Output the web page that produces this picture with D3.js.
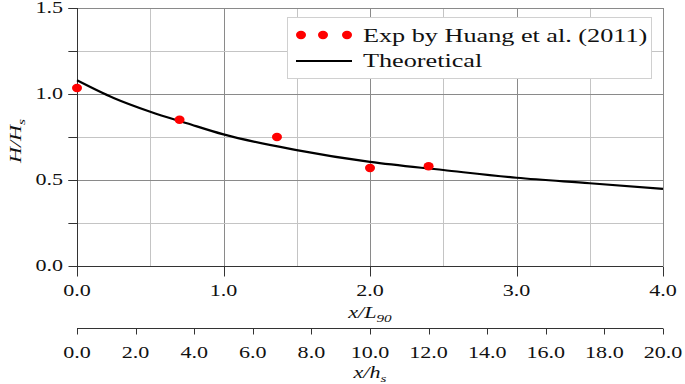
<!DOCTYPE html>
<html lang="en">
<head>
<meta charset="UTF-8">
<title>H/Hs vs x/L90</title>
<script src="https://cdn.jsdelivr.net/npm/d3@7"></script>
<style>
  body { margin: 0; background: #fff; }
</style>
</head>
<body>
<svg id="chart" width="685" height="384" font-family="'Liberation Serif', 'Times New Roman', serif"></svg>
<script>
// experimental points (Huang et al. 2011)
var expX = [0.0, 0.70, 1.365, 2.0, 2.40];
var expY = [1.035, 0.85, 0.75, 0.57, 0.58];

// theoretical curve
var theoX = [0.0, 0.25, 0.5, 0.75, 1.0, 1.5, 2.0, 2.5, 3.0, 3.5, 4.0];
var theoY = [1.08, 0.977, 0.897, 0.83, 0.765, 0.674, 0.605, 0.558, 0.513, 0.481, 0.448];

var yTicks = [0.0, 0.5, 1.0, 1.5];
var yGrid = [0.25, 0.5, 0.75, 1.0, 1.25, 1.5];
var xTicks = [0, 1, 2, 3, 4];
var xGrid = [0.5, 1, 1.5, 2, 2.5, 3, 3.5, 4];
var hsTicks = [0, 2, 4, 6, 8, 10, 12, 14, 16, 18, 20];

var svg = d3.select("#chart");
var stretch = 1.38; // text in the figure is widened horizontally

var x = d3.scaleLinear().domain([0, 4]).range([77, 663]);
var y = d3.scaleLinear().domain([0, 1.5]).range([266, 8]);
var xh = d3.scaleLinear().domain([0, 20]).range([77, 663]);

// helper: text placed at (tx,ty), stretched horizontally
function label(parent, tx, ty, anchor, size, html, italic) {
    return parent.append("text")
        .attr("transform", "translate(" + tx + "," + ty + ") scale(" + stretch + ",1)")
        .attr("text-anchor", anchor)
        .attr("fill", "#111")
        .style("font-size", size + "px")
        .style("font-style", italic ? "italic" : "normal")
        .html(html);
}

// grid
svg.append("g").selectAll("line")
    .data(xGrid).enter().append("line")
    .attr("x1", function (d) { return Math.round(x(d)) + 0.5; })
    .attr("x2", function (d) { return Math.round(x(d)) + 0.5; })
    .attr("y1", y(0)).attr("y2", y(1.5))
    .attr("stroke", function (d) { return d % 1 === 0 ? "#8a8a8a" : "#c4c4c4"; });

svg.append("g").selectAll("line")
    .data(yGrid).enter().append("line")
    .attr("x1", 68).attr("x2", x(4))
    .attr("y1", function (d) { return Math.round(y(d)) + 0.5; })
    .attr("y2", function (d) { return Math.round(y(d)) + 0.5; })
    .attr("stroke", function (d) { return d % 0.5 === 0 ? "#8a8a8a" : "#c4c4c4"; });

// y axis
var yAxis = svg.append("g").attr("transform", "translate(77.5,0)");
yAxis.append("line").attr("x1", 0).attr("x2", 0).attr("y1", y(0)).attr("y2", y(1.5))
    .attr("stroke", "#333");
yAxis.selectAll("line.tk").data([0].concat(yGrid)).enter().append("line")
    .attr("class", "tk")
    .attr("x1", -9).attr("x2", 0)
    .attr("y1", function (d) { return Math.round(y(d)) + 0.5; })
    .attr("y2", function (d) { return Math.round(y(d)) + 0.5; })
    .attr("stroke", "#333");
yTicks.forEach(function (d) {
    label(svg, 63, y(d) + 5, "end", 16, d.toFixed(1));
});

svg.append("text")
    .attr("transform", "translate(21,141) rotate(-90) scale(" + stretch + ",1)")
    .attr("text-anchor", "middle")
    .attr("fill", "#111")
    .style("font-size", "16px").style("font-style", "italic")
    .html('H/H<tspan dy="4" font-size="11">s</tspan>');

// x axis (x/L90)
var xAxis = svg.append("g").attr("transform", "translate(0,266.5)");
xAxis.append("line").attr("x1", x(0)).attr("x2", x(4)).attr("y1", 0).attr("y2", 0)
    .attr("stroke", "#333");
xAxis.selectAll("line.tk").data(xTicks).enter().append("line")
    .attr("class", "tk")
    .attr("x1", function (d) { return Math.round(x(d)) + 0.5; })
    .attr("x2", function (d) { return Math.round(x(d)) + 0.5; })
    .attr("y1", 0).attr("y2", 10)
    .attr("stroke", "#333");
xTicks.forEach(function (d) {
    label(svg, x(d), 296, "middle", 16, d.toFixed(1));
});
label(svg, 370, 318, "middle", 16, 'x/L<tspan dy="4" font-size="11">90</tspan>', true);

// second x axis (x/hs)
var hAxis = svg.append("g").attr("transform", "translate(0,328.5)");
hAxis.append("line").attr("x1", xh(0)).attr("x2", xh(20)).attr("y1", 0).attr("y2", 0)
    .attr("stroke", "#333");
hAxis.selectAll("line.tk").data(hsTicks).enter().append("line")
    .attr("class", "tk")
    .attr("x1", function (d) { return Math.round(xh(d)) + 0.5; })
    .attr("x2", function (d) { return Math.round(xh(d)) + 0.5; })
    .attr("y1", 0).attr("y2", 6)
    .attr("stroke", "#333");
hsTicks.forEach(function (d) {
    label(svg, xh(d), 358, "middle", 16, d.toFixed(1));
});
label(svg, 370, 378, "middle", 16, 'x/h<tspan dy="4" font-size="11">s</tspan>', true);

// theoretical curve
var line = d3.line()
    .x(function (d) { return x(d[0]); })
    .y(function (d) { return y(d[1]); })
    .curve(d3.curveMonotoneX);
svg.append("path")
    .datum(d3.zip(theoX, theoY))
    .attr("d", line)
    .attr("fill", "none")
    .attr("stroke", "#000")
    .attr("stroke-width", 2.2);

// experimental points
svg.append("g").selectAll("ellipse")
    .data(d3.zip(expX, expY)).enter().append("ellipse")
    .attr("cx", function (d) { return x(d[0]); })
    .attr("cy", function (d) { return y(d[1]); })
    .attr("rx", 5).attr("ry", 4.2)
    .attr("fill", "#ff0000");

// legend
var lg = svg.append("g");
lg.append("rect")
    .attr("x", 287.5).attr("y", 17.5).attr("width", 364).attr("height", 61)
    .attr("fill", "#fff").attr("stroke", "#d0d0d0");
lg.selectAll("ellipse").data([301, 323, 347]).enter().append("ellipse")
    .attr("cx", function (d) { return d; }).attr("cy", 35)
    .attr("rx", 5).attr("ry", 4.2).attr("fill", "#ff0000");
label(lg, 363, 42, "start", 19, "Exp by Huang et al. (2011)");
lg.append("line").attr("x1", 296).attr("x2", 352).attr("y1", 61).attr("y2", 61)
    .attr("stroke", "#000").attr("stroke-width", 2);
label(lg, 363, 67, "start", 19, "Theoretical");
</script>
</body>
</html>
